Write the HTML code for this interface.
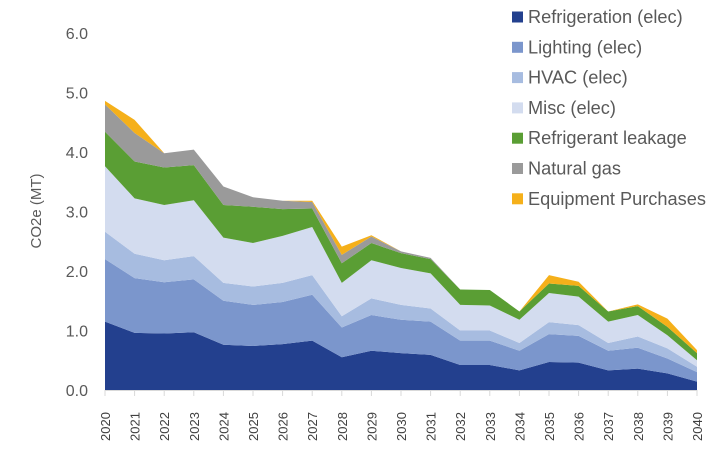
<!DOCTYPE html>
<html><head><meta charset="utf-8"><style>
body{margin:0;background:#fff;}
svg{display:block;font-family:"Liberation Sans",sans-serif;}
</style></head><body>
<svg id="chart" width="725" height="455" viewBox="0 0 725 455">
<g id="areas"></g>
<g id="axes"></g>
<text transform="translate(41,211) rotate(-90)" text-anchor="middle" font-size="15" fill="#595959">CO2e (MT)</text>
<g id="legend"></g>
</svg>
<script>
const years = ["2020","2021","2022","2023","2024","2025","2026","2027","2028","2029","2030","2031","2032","2033","2034","2035","2036","2037","2038","2039","2040"];
const refrigeration = [1.15,0.96,0.95,0.97,0.76,0.74,0.77,0.83,0.55,0.66,0.62,0.59,0.42,0.42,0.33,0.47,0.46,0.33,0.36,0.28,0.14];
const lighting = [1.05,0.92,0.86,0.89,0.74,0.69,0.71,0.77,0.50,0.60,0.56,0.56,0.41,0.41,0.33,0.47,0.45,0.33,0.35,0.25,0.16];
const hvac = [0.46,0.41,0.37,0.39,0.30,0.31,0.32,0.33,0.19,0.28,0.25,0.22,0.17,0.17,0.13,0.20,0.18,0.13,0.19,0.17,0.09];
const misc = [1.10,0.93,0.93,0.94,0.76,0.73,0.79,0.81,0.56,0.64,0.62,0.59,0.43,0.42,0.39,0.49,0.48,0.36,0.36,0.22,0.11];
const leakage = [0.58,0.62,0.63,0.59,0.55,0.61,0.45,0.31,0.33,0.29,0.25,0.24,0.26,0.26,0.14,0.16,0.18,0.17,0.15,0.14,0.12];
const naturalGas = [0.46,0.48,0.24,0.26,0.31,0.16,0.14,0.11,0.14,0.11,0.03,0.02,0,0,0,0,0,0,0,0,0];
const equipment = [0.06,0.22,0,0,0,0,0,0.02,0.14,0.02,0,0,0,0,0,0.14,0.07,0,0.03,0.14,0.05];
const yTicks = ["0.0","1.0","2.0","3.0","4.0","5.0","6.0"];
const seriesNames = ["Refrigeration (elec)","Lighting (elec)","HVAC (elec)","Misc (elec)","Refrigerant leakage","Natural gas","Equipment Purchases"];

const NS="http://www.w3.org/2000/svg";
const colors=["#23408e","#7b96cc","#a7bce0","#d3dcef","#5a9e34","#9a9a9a","#f5b01a"];
const keys=["refrigeration","lighting","hvac","misc","refrigerant-leakage","natural-gas","equipment-purchases"];
const series=[refrigeration,lighting,hvac,misc,leakage,naturalGas,equipment];
const x0=105,x1=697,y0=390,yTop=33,yMax=6;
const xs=i=>x0+i*(x1-x0)/(years.length-1);
const ys=v=>y0-v*(y0-yTop)/yMax;
function mk(t,a){const e=document.createElementNS(NS,t);for(const k in a)e.setAttribute(k,a[k]);return e;}
const areas=document.getElementById('areas');
let base=years.map(()=>0);
series.forEach((s,si)=>{
  const top=base.map((b,i)=>b+s[i]);
  let d="M"+years.map((_,i)=>xs(i)+","+ys(top[i])).join(" L");
  for(let i=years.length-1;i>=0;i--) d+=" L"+xs(i)+","+ys(base[i]);
  d+=" Z";
  const p=mk('path',{d:d,fill:colors[si]});
  
  
  areas.appendChild(p);
  base=top;
});
const axes=document.getElementById('axes');
const bl=mk('line',{x1:x0,x2:x1,y1:y0+0.5,y2:y0+0.5,stroke:"#d9d9d9","stroke-width":1});


axes.appendChild(bl);
yTicks.forEach((t,i)=>{
  const tx=mk('text',{x:88,y:ys(parseFloat(t))+6,"text-anchor":"end","font-size":16,fill:"#595959"});
  tx.textContent=t;
  
  
  axes.appendChild(tx);
});
years.forEach((y,i)=>{
  const tk=mk('line',{x1:xs(i),x2:xs(i),y1:y0,y2:y0+6,stroke:"#d9d9d9"});
  
  
  axes.appendChild(tk);
  const tx=mk('text',{transform:"translate("+(xs(i)+5)+",441) rotate(-90)","font-size":13,fill:"#404040"});
  tx.textContent=y;
  
  
  axes.appendChild(tx);
});
const lg=document.getElementById('legend');
seriesNames.forEach((n,i)=>{
  const yy=17+i*30.3;
  const r=mk('rect',{x:512,y:yy-5.5,width:11,height:11,fill:colors[i]});
  
  
  lg.appendChild(r);
  const t=mk('text',{x:528,y:yy+6,"font-size":18.2,fill:"#595959"});
  t.textContent=n;
  
  
  lg.appendChild(t);
});
</script>
</body></html>
